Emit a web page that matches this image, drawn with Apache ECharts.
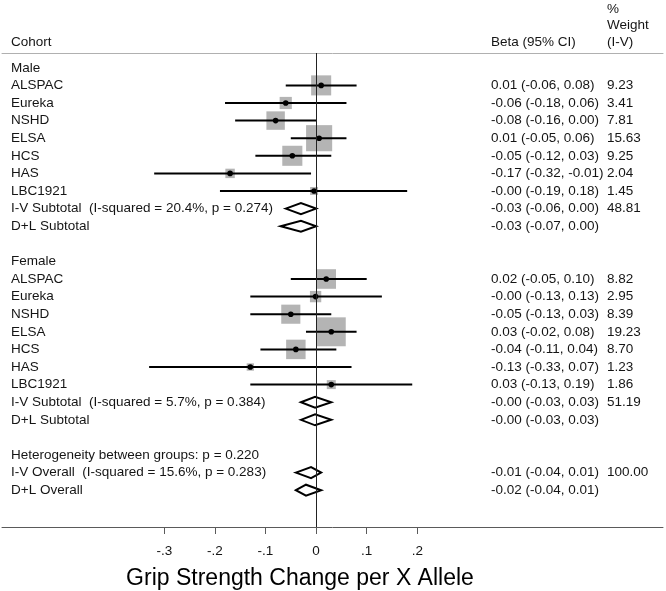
<!DOCTYPE html>
<html><head><meta charset="utf-8">
<script src="https://cdn.jsdelivr.net/npm/echarts@6/dist/echarts.min.js"></script>
<style>html,body{margin:0;padding:0;background:#fff}#c{width:666px;height:591px}</style>
</head><body><div id="c"></div>
<script>
const rowLabels = [
  'Male','ALSPAC','Eureka','NSHD','ELSA','HCS','HAS','LBC1921',
  'I-V Subtotal  (I-squared = 20.4%, p = 0.274)','D+L Subtotal','',
  'Female','ALSPAC','Eureka','NSHD','ELSA','HCS','HAS','LBC1921',
  'I-V Subtotal  (I-squared = 5.7%, p = 0.384)','D+L Subtotal','',
  'Heterogeneity between groups: p = 0.220',
  'I-V Overall  (I-squared = 15.6%, p = 0.283)','D+L Overall'
];
const rowKinds = [
  'group','study','study','study','study','study','study','study','pooled','pooled','blank',
  'group','study','study','study','study','study','study','study','pooled','pooled','blank',
  'note','pooled','pooled'
];
const estimates = [
  null,0.01,-0.06,-0.08,0.006,-0.047,-0.17,-0.004,-0.03,-0.03,null,
  null,0.02,-0.001,-0.05,0.03,-0.04,-0.13,0.03,-0.002,-0.002,null,
  null,-0.01,-0.02
];
const lowerCI = [
  null,-0.06,-0.18,-0.16,-0.05,-0.12,-0.32,-0.19,-0.06,-0.07,null,
  null,-0.05,-0.13,-0.13,-0.02,-0.11,-0.33,-0.13,-0.03,-0.03,null,
  null,-0.04,-0.04
];
const upperCI = [
  null,0.08,0.06,0.00,0.06,0.03,-0.01,0.18,0.00,0.00,null,
  null,0.10,0.13,0.03,0.08,0.04,0.07,0.19,0.03,0.03,null,
  null,0.01,0.01
];
const weights = [
  null,9.23,3.41,7.81,15.63,9.25,2.04,1.45,48.81,null,null,
  null,8.82,2.95,8.39,19.23,8.70,1.23,1.86,51.19,null,null,
  null,100.00,null
];
const betaTexts = [
  '','0.01 (-0.06, 0.08)','-0.06 (-0.18, 0.06)','-0.08 (-0.16, 0.00)','0.01 (-0.05, 0.06)',
  '-0.05 (-0.12, 0.03)','-0.17 (-0.32, -0.01)','-0.00 (-0.19, 0.18)','-0.03 (-0.06, 0.00)','-0.03 (-0.07, 0.00)','',
  '','0.02 (-0.05, 0.10)','-0.00 (-0.13, 0.13)','-0.05 (-0.13, 0.03)','0.03 (-0.02, 0.08)',
  '-0.04 (-0.11, 0.04)','-0.13 (-0.33, 0.07)','0.03 (-0.13, 0.19)','-0.00 (-0.03, 0.03)','-0.00 (-0.03, 0.03)','',
  '','-0.01 (-0.04, 0.01)','-0.02 (-0.04, 0.01)'
];
const xTicks = [-0.3,-0.2,-0.1,0,0.1,0.2];
const xTickLabels = ['-.3','-.2','-.1','0','.1','.2'];
const xTitle = 'Grip Strength Change per X Allele';
const headers = { cohort: 'Cohort', beta: 'Beta (95% CI)', weight: ['%','Weight','(I-V)'] };

const FONT = 'Liberation Sans, Arial, sans-serif';
const FS = 13.5;
const TXT = '#151515';
const COL_LABEL = 11, COL_BETA = 491, COL_W = 607;

const chart = echarts.init(document.getElementById('c'), null, {renderer:'canvas'});

function txt(x, y, s, extra) {
  return Object.assign({type:'text', x:x, y:y, style:{text:s, fill:TXT, fontSize:FS, fontFamily:FONT, verticalAlign:'middle', align:'left'}}, extra||{});
}

function renderItem(params, api) {
  const i = params.dataIndex;
  const y = api.coord([0, i])[1];
  const kids = [];
  if (rowKinds[i] === 'study') {
    const c = api.coord([estimates[i], i]);
    const l = api.coord([lowerCI[i], i]);
    const h = api.coord([upperCI[i], i]);
    const side = 6.6 * Math.sqrt(weights[i]);
    kids.push({type:'rect', shape:{x:c[0]-side/2, y:y-side/2, width:side, height:side}, style:{fill:'#b4b4b4'}});
    kids.push({type:'line', shape:{x1:l[0], y1:y, x2:h[0], y2:y}, style:{stroke:'#000', lineWidth:2}});
    kids.push({type:'circle', shape:{cx:c[0], cy:y, r:2.8}, style:{fill:'#000'}});
  } else if (rowKinds[i] === 'pooled') {
    const c = api.coord([estimates[i], i]);
    const l = api.coord([lowerCI[i], i]);
    const h = api.coord([upperCI[i], i]);
    const hh = 5.5;
    kids.push({type:'polygon', shape:{points:[[l[0],y],[c[0],y-hh],[h[0],y],[c[0],y+hh]]}, style:{fill:'#fff', stroke:'#000', lineWidth:2, lineJoin:'miter'}});
  }
  if (rowLabels[i]) kids.push(txt(COL_LABEL, y, rowLabels[i]));
  if (betaTexts[i]) kids.push(txt(COL_BETA, y, betaTexts[i]));
  if (weights[i] != null) kids.push(txt(COL_W, y, weights[i].toFixed(2)));
  return {type:'group', children:kids};
}

const seriesData = rowLabels.map((_, i) => [estimates[i] == null ? 0 : estimates[i], i]);

const xMin = (2 - 316.1) / 506, xMax = (663 - 316.1) / 506;

chart.setOption({
  animation:false,
  backgroundColor:'#fff',
  grid:{left:2, right:3, top:53, bottom:64, containLabel:false},
  xAxis:[{
    type:'value', min:xMin, max:xMax, position:'bottom',
    axisLine:{show:true, onZero:false, lineStyle:{color:'#5a5a5a', width:1}},
    axisTick:{show:true, customValues:xTicks, length:7, lineStyle:{color:'#5a5a5a', width:1}},
    axisLabel:{show:true, customValues:xTicks, margin:17, color:TXT, fontSize:FS, fontFamily:FONT,
      formatter:function(v){ const k = xTicks.findIndex(t => Math.abs(t - v) < 1e-9); return k >= 0 ? xTickLabels[k] : ''; }},
    splitLine:{show:false}
  },{
    type:'value', min:xMin, max:xMax, position:'top',
    axisLine:{show:true, onZero:false, lineStyle:{color:'#b0b0b0', width:1}},
    axisTick:{show:false}, axisLabel:{show:false}, splitLine:{show:false}
  }],
  yAxis:{type:'value', inverse:true, min:-0.84, max:26.09, show:false},
  series:[{
    type:'custom', xAxisIndex:0, renderItem:renderItem, data:seriesData, clip:false,
    encode:{x:0, y:1}, silent:true,
    markLine:{silent:true, symbol:'none', animation:false, label:{show:false},
      lineStyle:{color:'#222', width:1, type:'solid'}, data:[{xAxis:0}]}
  }],
  graphic:[
    {type:'text', left:COL_LABEL, top:35, style:{text:headers.cohort, fill:TXT, fontSize:FS, fontFamily:FONT}},
    {type:'text', left:COL_BETA, top:35, style:{text:headers.beta, fill:TXT, fontSize:FS, fontFamily:FONT}},
    {type:'text', left:COL_W, top:2, style:{text:headers.weight[0], fill:TXT, fontSize:FS, fontFamily:FONT}},
    {type:'text', left:COL_W, top:18.5, style:{text:headers.weight[1], fill:TXT, fontSize:FS, fontFamily:FONT}},
    {type:'text', left:COL_W, top:35, style:{text:headers.weight[2], fill:TXT, fontSize:FS, fontFamily:FONT}},
    {type:'text', x:300, y:579, style:{text:xTitle, fill:'#000', fontSize:23, fontFamily:FONT, align:'center', verticalAlign:'middle'}}
  ]
});
</script>
</body></html>
